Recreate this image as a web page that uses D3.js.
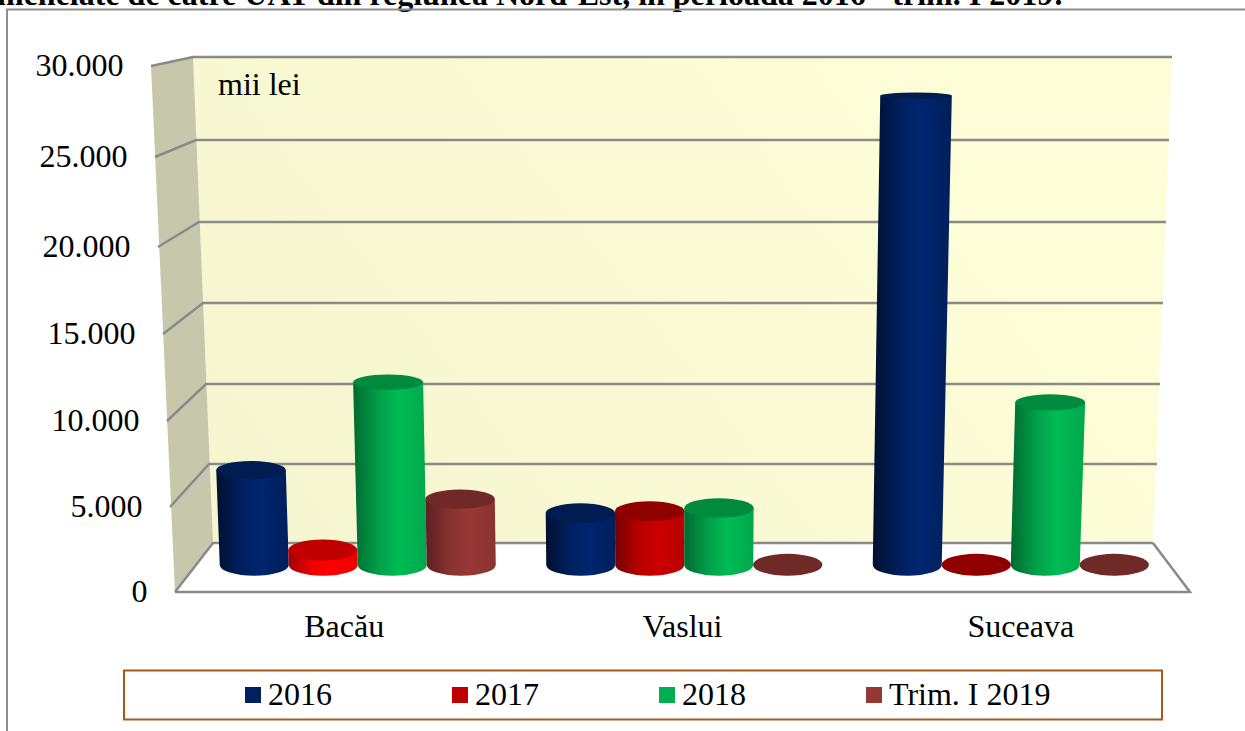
<!DOCTYPE html>
<html>
<head>
<meta charset="utf-8">
<script src="https://cdn.jsdelivr.net/npm/d3@7"></script>
<style>
    html, body { margin: 0; padding: 0; background: #fff; overflow: hidden; }
    svg { display: block; }
    text { font-family: "Liberation Serif", "Times New Roman", serif; fill: #000; }
</style>
</head>
<body>
<svg id="chart" width="1245" height="731"></svg>
<script>
var categories = ["Bacău", "Vaslui", "Suceava"];
var seriesNames = ["2016", "2017", "2018", "Trim. I 2019"];
var values2016 = [5800, 3180, 28000];
var values2017 = [920, 3300, 30];
var values2018 = [11100, 3490, 9900];
var valuesTrim = [4040, 30, 30];
var seriesValues = [values2016, values2017, values2018, valuesTrim];
var tickValues = [0, 5000, 10000, 15000, 20000, 25000, 30000];

// side, top and swatch colours per series
var palette = [
    { swatch: "#002060", top: "#001c50", stops: ["#00102f", "#002060", "#002670", "#001f5a"] },
    { swatch: "#c00000", top: "#900000", stops: ["#750000", "#b80000", "#cc0000", "#b80000"] },
    { swatch: "#00b050", top: "#008a3e", stops: ["#006a30", "#00a049", "#00bb56", "#00a84c"] },
    { swatch: "#953735", top: "#6f2a28", stops: ["#5a2120", "#883230", "#983836", "#8a3230"] }
];
// in the original the Bacău 2017 bar is a brighter red
var bacauRed = { top: "#c00000", stops: ["#a00000", "#f00000", "#ff0000", "#ee0000"] };

var svg = d3.select("#chart");
var defs = svg.append("defs");
var fmt = d3.formatLocale({ decimal: ",", thousands: ".", grouping: [3], currency: ["", ""] }).format(",d");

// the 3d box: front edge and back wall, read tick by tick
var frontY = d3.scaleLinear().domain(tickValues).range([592, 507, 421, 334, 247, 157, 66]);
var frontLeft = d3.scaleLinear().domain(tickValues).range([175, 170, 167, 163, 158, 155, 151]);
var backY = d3.scaleLinear().domain(tickValues).range([543, 464, 384, 303, 222, 140, 57]);
var backLeft = d3.scaleLinear().domain(tickValues).range([213, 209, 206, 203, 199, 196, 193]);
var backRight = d3.scaleLinear().domain(tickValues).range([1153, 1157, 1160, 1163, 1166, 1169, 1172]);
var frontRight = 1190;

// bars stand on a plane part way into the box
var depth = 0.55;
var vanishX = 672;
function barY(v) { return frontY(v) + depth * (backY(v) - frontY(v)); }
var stretch = d3.scaleLinear().domain([0, 30000]).range([1, 1.04]);
var capRy = d3.scaleLinear().domain([0, 30000]).range([10.7, 2.6]);

var x0 = d3.scaleBand().domain(categories).range([194.5, 1174]);
var x1 = d3.scaleBand().domain(seriesNames).range([-138, 138]);
var xLabel = d3.scaleBand().domain(categories).range([frontLeft(0), frontRight]);

// page furniture
svg.append("text")
    .attr("x", -3).attr("y", 5)
    .attr("font-size", 32).attr("font-weight", "bold")
    .text("menelate de către UAT din regiunea Nord-Est, în perioada 2016 - trim. I 2019:");

svg.append("path")
    .attr("d", "M7,731V9.5H1245")
    .attr("fill", "none").attr("stroke", "#8e8e8e").attr("stroke-width", 2);

// walls
var wallGrad = defs.append("linearGradient").attr("id", "wall")
    .attr("gradientUnits", "userSpaceOnUse")
    .attr("x1", 300).attr("y1", 560).attr("x2", 900).attr("y2", 100);
wallGrad.append("stop").attr("offset", 0).attr("stop-color", "#f5f6cf");
wallGrad.append("stop").attr("offset", 1).attr("stop-color", "#fdfdd7");

var line = d3.line();
svg.append("path")
    .attr("d", line([[backLeft(30000), backY(30000)], [backRight(30000), backY(30000)], [backRight(0), backY(0)], [backLeft(0), backY(0)]]) + "Z")
    .attr("fill", "url(#wall)");
svg.append("path")
    .attr("d", line([[frontLeft(30000), frontY(30000)], [backLeft(30000), backY(30000)], [backLeft(0), backY(0)], [frontLeft(0), frontY(0)]]) + "Z")
    .attr("fill", "#c6c7ab");
svg.append("path")
    .attr("d", line([[frontLeft(0), frontY(0)], [backLeft(0), backY(0)], [backRight(0), backY(0)], [frontRight, frontY(0)]]) + "Z")
    .attr("fill", "#fff");

// gridlines
svg.append("g").selectAll("path")
    .data(tickValues)
    .enter().append("path")
    .attr("d", function(d) {
        return line([[frontLeft(d), frontY(d)], [backLeft(d), backY(d)], [backRight(d), backY(d)]]);
    })
    .attr("fill", "none").attr("stroke", "#8a8a8a").attr("stroke-width", 2.5);

svg.append("path")
    .attr("d", line([[frontLeft(0), frontY(0)], [frontRight, frontY(0)], [backRight(0), backY(0)]]))
    .attr("fill", "none").attr("stroke", "#8a8a8a").attr("stroke-width", 2.5);

// value labels
svg.append("g").selectAll("text")
    .data(tickValues)
    .enter().append("text")
    .attr("x", function(d) { return frontLeft(d) - 27.5; })
    .attr("y", function(d) { return frontY(d) + 10; })
    .attr("text-anchor", "end")
    .attr("font-size", 32)
    .text(function(d) { return fmt(d); });

svg.append("text")
    .attr("x", 218).attr("y", 95)
    .attr("font-size", 32)
    .text("mii lei");

// bars
function addGradient(id, stops) {
    var g = defs.append("linearGradient").attr("id", id)
        .attr("x1", 0).attr("y1", 0).attr("x2", 1).attr("y2", 0);
    [0, 0.35, 0.62, 1].forEach(function(o, i) {
        g.append("stop").attr("offset", o).attr("stop-color", stops[i]);
    });
}
palette.forEach(function(p, i) { addGradient("bar" + i, p.stops); });
addGradient("barBright", bacauRed.stops);

var bars = [];
categories.forEach(function(cat, c) {
    seriesNames.forEach(function(name, s) {
        bars.push({ cat: cat, name: name, s: s, c: c, value: seriesValues[s][c] });
    });
});

var barG = svg.append("g").selectAll("g")
    .data(bars)
    .enter().append("g");

function centerX(d) {
    return x0(d.cat) + x0.bandwidth() / 2 + x1(d.name) + x1.bandwidth() / 2;
}
function projX(x, v) { return vanishX + (x - vanishX) * stretch(v); }
function isBright(d) { return d.c === 0 && d.s === 1; }

barG.append("path")
    .attr("d", function(d) {
        var cx = centerX(d), r = x1.bandwidth() / 2;
        var yb = barY(0), yt = barY(d.value);
        var ry = capRy(0);
        return "M" + projX(cx - r, d.value) + "," + yt +
            "L" + (cx - r) + "," + yb +
            "A" + r + "," + ry + " 0 0 0 " + (cx + r) + "," + yb +
            "L" + projX(cx + r, d.value) + "," + yt + "Z";
    })
    .attr("fill", function(d) { return isBright(d) ? "url(#barBright)" : "url(#bar" + d.s + ")"; });

barG.append("ellipse")
    .attr("cx", function(d) { return projX(centerX(d), d.value); })
    .attr("cy", function(d) { return barY(d.value); })
    .attr("rx", function(d) { return x1.bandwidth() / 2 * stretch(d.value); })
    .attr("ry", function(d) { return capRy(d.value); })
    .attr("fill", function(d) { return isBright(d) ? bacauRed.top : palette[d.s].top; });

// category labels
svg.append("g").selectAll("text")
    .data(categories)
    .enter().append("text")
    .attr("x", function(d) { return xLabel(d) + xLabel.bandwidth() / 2; })
    .attr("y", 637)
    .attr("text-anchor", "middle")
    .attr("font-size", 32)
    .text(function(d) { return d; });

// legend
svg.append("rect")
    .attr("x", 124).attr("y", 670.5).attr("width", 1038).attr("height", 49)
    .attr("fill", "#fff").attr("stroke", "#a65a1e").attr("stroke-width", 2);

var legendX = d3.scalePoint().domain(seriesNames).range([245, 866]);
var legend = svg.append("g").selectAll("g")
    .data(seriesNames)
    .enter().append("g")
    .attr("transform", function(d) { return "translate(" + legendX(d) + ",687)"; });

legend.append("rect")
    .attr("width", 16).attr("height", 16)
    .attr("fill", function(d, i) { return palette[i].swatch; });

legend.append("text")
    .attr("x", 23).attr("y", 18)
    .attr("font-size", 32)
    .text(function(d) { return d; });
</script>
</body>
</html>
